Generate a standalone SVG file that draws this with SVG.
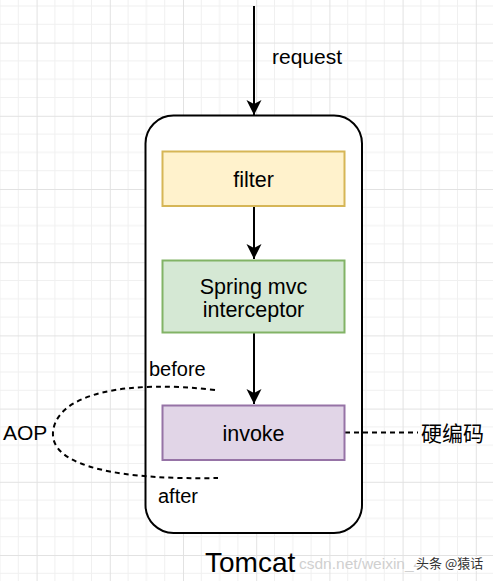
<svg xmlns="http://www.w3.org/2000/svg" width="493" height="581" viewBox="0 0 493 581">
<style>
.t{font-family:"Liberation Sans",Arial,sans-serif;fill:#000;}
.lbl{font-size:21.5px;text-anchor:middle;}
.edge{stroke:#000;stroke-width:2;fill:none;}
.dash{stroke:#000;stroke-width:2;fill:none;stroke-dasharray:5 4;}
</style>
<defs>
<pattern id="grid" patternUnits="userSpaceOnUse" x="36.6" y="42.6" width="73.2" height="73.2">
<path d="M18.3 0V73.2M36.6 0V73.2M54.9 0V73.2M0 18.3H73.2M0 36.6H73.2M0 54.9H73.2" stroke="#f0f0f0" stroke-width="1" fill="none"/>
<path d="M0.5 0V73.2M0 0.5H73.2" stroke="#e2e2e2" stroke-width="1" fill="none"/>
</pattern>
<marker id="ah" markerUnits="userSpaceOnUse" markerWidth="16" markerHeight="16" viewBox="-15 -8 16 16" refX="0" refY="0" orient="auto">
<path d="M0 0L-15 -7.5L-11 0L-15 7.5Z" fill="#000"/>
</marker>
</defs>
<rect width="493" height="581" fill="#fff"/>
<rect width="493" height="581" fill="url(#grid)"/>

<g id="tomcat">
<rect x="145.5" y="115.5" width="216.5" height="417.5" rx="28" ry="28" fill="#fff" stroke="#000" stroke-width="2"/>
<text class="t" x="205" y="571.5" font-size="28">Tomcat</text>
</g>

<g id="watermark">
<text x="299" y="569" font-family="'Liberation Sans',Arial,sans-serif" font-size="15.5" fill="#d0d0d0">csdn.net/weixin_4</text>
<text x="416" y="568" font-family="'Noto Sans CJK SC','Liberation Sans',sans-serif" font-size="13" fill="#333" stroke="#fff" stroke-width="2" paint-order="stroke">头条 @猿话</text>
</g>

<g id="connectors">
<line class="edge" x1="254" y1="6" x2="254" y2="115" marker-end="url(#ah)"/>
<line class="edge" x1="254" y1="206" x2="254" y2="259" marker-end="url(#ah)"/>
<line class="edge" x1="254" y1="333" x2="254" y2="404" marker-end="url(#ah)"/>
<line class="dash" x1="345" y1="432.5" x2="418" y2="432.5"/>
<path class="dash" d="M215 390C130 380 57 392 53 432C50 468 125 480 218 478"/>
</g>

<g id="request-label"><text class="t" x="272" y="64" font-size="21">request</text></g>

<g id="filter">
<rect x="162.5" y="151.5" width="182" height="54.5" fill="#fff2cc" stroke="#d6b656" stroke-width="2"/>
<text class="t lbl" x="253.5" y="187">filter</text>
</g>

<g id="spring">
<rect x="162.5" y="260.5" width="182" height="72" fill="#d5e8d4" stroke="#82b366" stroke-width="2"/>
<text class="t lbl" x="253.5" y="294">Spring mvc</text>
<text class="t lbl" x="253.5" y="317">interceptor</text>
</g>

<g id="invoke">
<rect x="162.5" y="405.5" width="182" height="54.5" fill="#e1d5e7" stroke="#9673a6" stroke-width="2"/>
<text class="t lbl" x="253.5" y="441">invoke</text>
</g>

<g id="labels">
<text class="t" x="149" y="376" font-size="20">before</text>
<text class="t" x="158" y="503" font-size="20">after</text>
<text class="t" x="3" y="440" font-size="21">AOP</text>
<text x="421" y="441" font-family="'Liberation Sans','Noto Sans CJK SC',sans-serif" font-size="21" fill="#000">硬编码</text>
</g>
</svg>
